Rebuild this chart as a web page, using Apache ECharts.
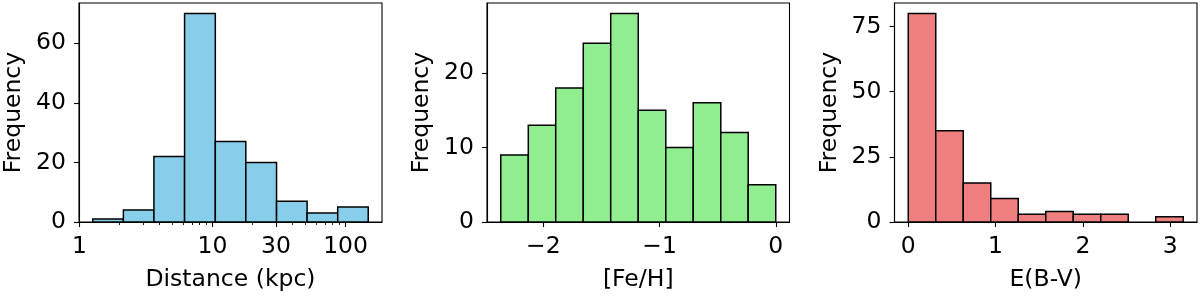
<!DOCTYPE html>
<html>
<head>
<meta charset="utf-8">
<script src="https://cdn.jsdelivr.net/npm/echarts@6/dist/echarts.min.js"></script>
<style>
html,body{margin:0;padding:0;background:#fff;}
#chart{width:1200px;height:297px;}
</style>
</head>
<body>
<div id="chart"></div>
<script>
// ---- Data ----
const distEdges = [1.26, 2.14, 3.63, 6.17, 10.5, 17.8, 30.3, 51.4, 87.3, 148];
const distCounts = [1, 4, 22, 70, 27, 20, 7, 3, 5];
const distTicks = [1, 10, 30, 100];
const distMinorTicks = [2, 3, 4, 5, 6, 7, 8, 9, 20, 40, 50, 60, 70, 80, 90];
const distYTicks = [0, 20, 40, 60];

const fehEdges = [-2.366, -2.129, -1.893, -1.656, -1.420, -1.183, -0.946, -0.710, -0.473, -0.237, 0.0];
const fehCounts = [9, 13, 18, 24, 28, 15, 10, 16, 12, 5];
const fehTicks = [-2, -1, 0];
const fehYTicks = [0, 10, 20];

const ebvEdges = [0, 0.315, 0.63, 0.945, 1.26, 1.575, 1.89, 2.205, 2.52, 2.835, 3.15];
const ebvCounts = [80, 35, 15, 9, 3, 4, 3, 3, 0, 2];
const ebvTicks = [0, 1, 2, 3];
const ebvYTicks = [0, 25, 50, 75];

const xLabels = ['Distance (kpc)', '[Fe/H]', 'E(B-V)'];
const yLabel = 'Frequency';
const colors = ['#87CEEB', '#90EE90', '#F08080'];

// ---- Build ----
const FONT = 'DejaVu Sans';
const FS = 23.5;
const grids = [
  {left: 79, width: 303, top: 3, height: 221.5},
  {left: 487, width: 302.5, top: 3, height: 221.5},
  {left: 894.5, width: 302.5, top: 3, height: 221.5}
].map(g => Object.assign({show: true, borderColor: '#000', borderWidth: 1.1, backgroundColor: 'transparent', containLabel: false}, g));

function binsToData(edges, counts, tf) {
  return counts.map((c, i) => [tf(edges[i]), tf(edges[i + 1]), c]);
}
const ident = v => v;
const panels = [
  {edges: distEdges.map(Math.log10), data: binsToData(distEdges, distCounts, Math.log10), counts: distCounts,
   ticks: distTicks.map(Math.log10), fmt: v => String(Math.round(Math.pow(10, v))), yTicks: distYTicks},
  {edges: fehEdges, data: binsToData(fehEdges, fehCounts, ident), counts: fehCounts,
   ticks: fehTicks, fmt: v => (v < 0 ? '\u2212' + Math.abs(v) : String(v)), yTicks: fehYTicks},
  {edges: ebvEdges, data: binsToData(ebvEdges, ebvCounts, ident), counts: ebvCounts,
   ticks: ebvTicks, fmt: v => String(v), yTicks: ebvYTicks}
];

const xAxes = [], yAxes = [], series = [];
panels.forEach((p, i) => {
  const lo = p.edges[0], hi = p.edges[p.edges.length - 1];
  const pad = (hi - lo) * 0.05;
  const xmin = lo - pad, xmax = hi + pad;
  xAxes.push({
    type: 'value', gridIndex: i, position: 'bottom', min: xmin, max: xmax,
    name: xLabels[i], nameLocation: 'middle', nameGap: 46,
    nameTextStyle: {fontFamily: FONT, fontSize: FS, color: '#000'},
    axisLine: {show: true, onZero: false, lineStyle: {color: '#000', width: 1.1}},
    axisTick: {show: true, inside: false, length: 5, customValues: p.ticks, lineStyle: {color: '#000', width: 1.1}},
    axisLabel: {show: true, customValues: p.ticks, formatter: p.fmt, margin: 13,
      fontFamily: FONT, fontSize: FS, color: '#000'},
    splitLine: {show: false}
  });
  const ymax = Math.max.apply(null, p.counts) * 1.05;
  yAxes.push({
    type: 'value', gridIndex: i, position: 'left', min: 0, max: ymax,
    name: yLabel, nameLocation: 'middle', nameGap: 53,
    nameTextStyle: {fontFamily: FONT, fontSize: FS, color: '#000'},
    axisLine: {show: true, onZero: false, lineStyle: {color: '#000', width: 1.1}},
    axisTick: {show: true, inside: false, length: 5, customValues: p.yTicks, lineStyle: {color: '#000', width: 1.1}},
    axisLabel: {show: true, customValues: p.yTicks, margin: 13,
      fontFamily: FONT, fontSize: FS, color: '#000'},
    splitLine: {show: false}
  });
  series.push({
    type: 'custom', xAxisIndex: i, yAxisIndex: i,
    data: p.data,
    encode: {x: [0, 1], y: 2},
    clip: false,
    renderItem: function (params, api) {
      const p0 = api.coord([api.value(0), 0]);
      const p1 = api.coord([api.value(1), api.value(2)]);
      if (api.value(2) <= 0) return null;
      return {
        type: 'rect',
        shape: {x: p0[0], y: p1[1], width: p1[0] - p0[0], height: p0[1] - p1[1]},
        style: {fill: colors[i], stroke: '#000', lineWidth: 1.5}
      };
    }
  });
});

// minor ticks for log axis (panel 1)
const lo0 = panels[0].edges[0], hi0 = panels[0].edges[panels[0].edges.length - 1];
const pad0 = (hi0 - lo0) * 0.05;
xAxes.push({
  type: 'value', gridIndex: 0, position: 'bottom', min: lo0 - pad0, max: hi0 + pad0,
  axisLine: {show: false, onZero: false},
  axisTick: {show: true, inside: false, length: 3, customValues: distMinorTicks.map(Math.log10), lineStyle: {color: '#000', width: 0.9}},
  axisLabel: {show: false},
  splitLine: {show: false}
});

const chart = echarts.init(document.getElementById('chart'), null, {renderer: 'canvas'});
chart.setOption({
  animation: false,
  backgroundColor: '#fff',
  grid: grids,
  xAxis: xAxes,
  yAxis: yAxes,
  series: series
});
</script>
</body>
</html>
